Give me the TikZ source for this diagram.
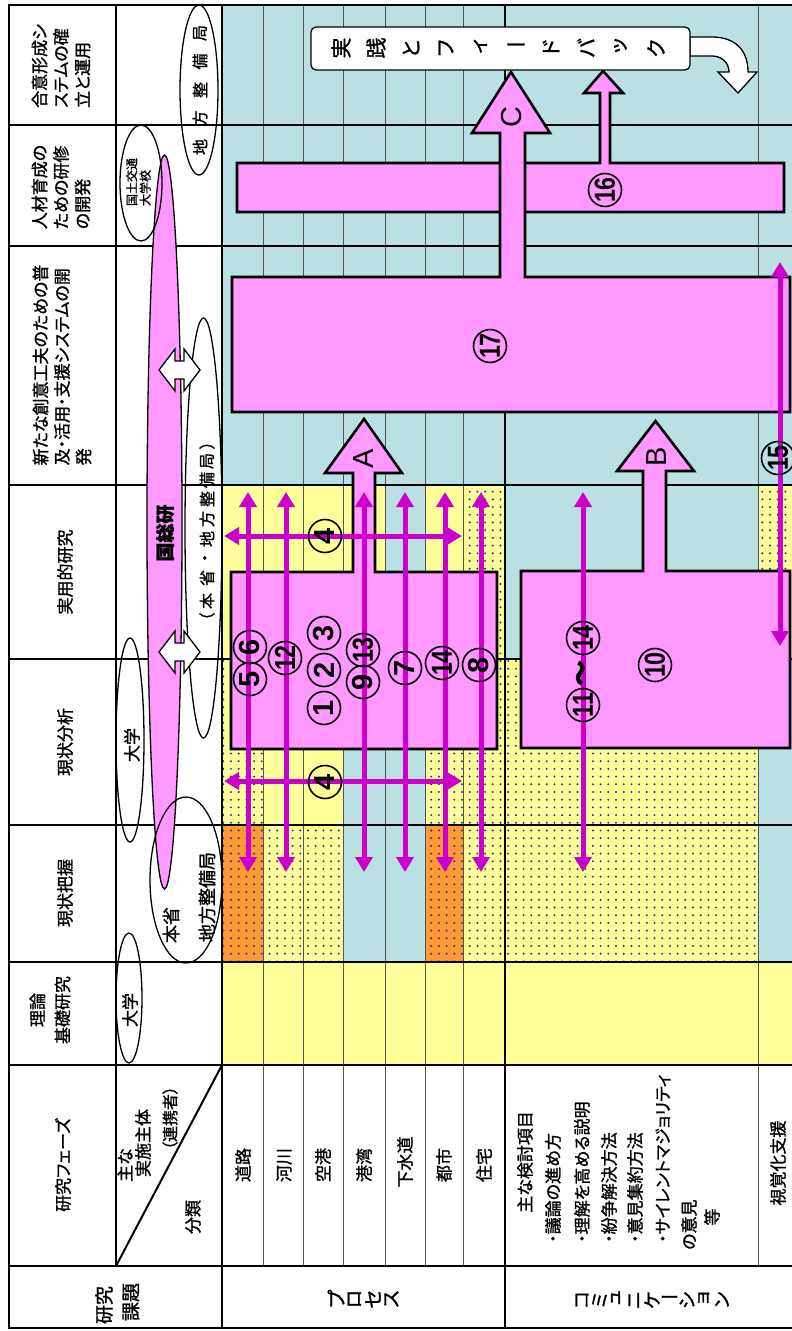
\documentclass[tikz,border=0pt]{standalone}
\usepackage{fontspec}
\usepackage{graphicx}
\setmainfont{Liberation Sans}
\newfontfamily\jp[RawFeature=+palt,FakeBold=1.2]{Noto Sans CJK JP}
\newfontfamily\jpv[RawFeature=+vert,FakeBold=1.2]{Noto Sans CJK JP}
\usetikzlibrary{arrows.meta,patterns.meta}
\newcommand\fs[2]{\fontsize{#1}{#2}\selectfont}
\newcommand\chobar{\rotatebox{-90}{\jp ー}}
\definecolor{cblue}{RGB}{187,224,227}
\definecolor{cyel}{RGB}{255,255,153}
\definecolor{corg}{RGB}{255,153,51}
\definecolor{cpink}{RGB}{255,153,255}
\definecolor{cmag}{RGB}{204,0,204}
\definecolor{cdot}{RGB}{45,45,150}
\definecolor{cgrid}{RGB}{85,85,85}
% chars rotated 90, laid out left to right (vertical text of the original)
\newcommand\tate[6]{\foreach \c [count=\i] in {#6}{\node[rotate=90,inner sep=0pt,font=#5] (#1\i) at ({#2+(\i-1)*(#4)},#3) {\c};}}
\begin{document}
\begin{tikzpicture}[x=1pt,y=-1pt,
  lbl/.style={rotate=90,inner sep=0pt,font=\jp\fs{17}{21.5}},
  dotfill/.style={pattern={Dots[distance=7.7pt,radius=1.1pt]},pattern color=cdot},
  thinl/.style={draw=cgrid,line width=1pt},
  thickl/.style={draw=black,line width=2.3pt,line cap=rect},
  blk/.style={draw=black,line width=2.6pt,line join=miter,fill=cpink},
  eline/.style={draw=black,line width=1.3pt},
  wbox/.style={draw=black,line width=1.3pt,fill=white,line join=miter},
  marr/.style={draw=cmag,line width=5pt,{Triangle[width=17pt,length=15pt]}-{Triangle[width=17pt,length=15pt]}},
  cn/.style={circle,draw=black,line width=1.6pt,minimum size=33pt,inner sep=0pt,rotate=90,font=\fs{29}{29}\bfseries},
  lett/.style={rotate=90,inner sep=0pt,font=\fs{29}{29}}]
\useasboundingbox (0,0) rectangle (792,1331);
\fill[white] (0,0) rectangle (792,1331);
% ---------- cell colours
\fill[cblue] (222,5) rectangle (792,1065);
\fill[cyel] (222,485) rectangle (385,659);
\fill[cyel] (425,485) rectangle (505,659);
\fill[cyel] (758,485) rectangle (792,659);
\fill[dotfill] (463,485) rectangle (505,659);
\fill[dotfill] (758,485) rectangle (792,659);
\fill[cyel] (222,659) rectangle (343,825);
\fill[cyel] (425,659) rectangle (758,825);
\fill[dotfill] (222,659) rectangle (263,825);
\fill[dotfill] (425,659) rectangle (758,825);
\fill[corg] (222,825) rectangle (263,962);
\fill[corg] (425,825) rectangle (463,962);
\fill[cyel] (263,825) rectangle (343,962);
\fill[cyel] (463,825) rectangle (758,962);
\fill[dotfill] (222,825) rectangle (343,962);
\fill[dotfill] (425,825) rectangle (758,962);
\fill[cyel] (222,962) rectangle (792,1065);
% ---------- grid
\foreach \x in {263,303,343,385,425,463,758} \draw[thinl] (\x,5) -- (\x,1266);
\foreach \y in {5,125,246,485,659,825,962,1065,1266,1328} \draw[thickl] (9,\y) -- (792,\y);
\draw[thickl] (9,5) -- (9,1328);
\draw[thickl] (116,5) -- (116,1266);
\draw[thickl] (222,5) -- (222,1328);
\draw[thickl] (505,5) -- (505,1328);
\draw[black,line width=2pt] (116,1266) -- (222,1065);
% ---------- header texts
\node[lbl,align=left] (p1) at (61,66) {合意形成シ\\ステムの確\\立と運用};
\node[lbl,align=left] (p2) at (61,187) {人材育成の\\ための研修\\の開発};
\node[lbl,align=left] (p3) at (62,365) {新たな創意工夫のための普\\及・活用・支援システムの開\\発};
\node[lbl] (p4) at (65,572) {実用的研究};
\node[lbl] (p5) at (65,742) {現状分析};
\node[lbl] (p6) at (65,893) {現状把握};
\node[lbl,align=center,font=\jp\fs{17}{25}] (p7) at (50,1010) {理論\\基礎研究};
\node[lbl] (p8) at (63,1165) {研究フェーズ};
\node[lbl] (a1) at (125,1165) {主な};
\node[lbl] (a2) at (143,1143) {実施主体};
\node[lbl,font=\jp\fs{16}{16}] (a3) at (170,1118) {（連携者）};
\node[lbl] (a4) at (193,1217) {分類};
\node[lbl,font=\jp\fs{19}{19}] (b1) at (104,1305) {研究};
\node[lbl,font=\jp\fs{19}{19}] (b2) at (131,1302) {課題};
\tate{pr}{336}{1299}{18.5}{\jpv\fs{20}{20}}{プ,ロ,セ,ス}
\tate{cm}{582}{1300}{17.5}{\jpv\fs{19}{19}}{コ,ミ,ュ,ニ,ケ,\chobar,シ,ョ,ン}
\foreach \t/\x/\y [count=\i] in {道路/243/1165,河川/284/1165,空港/323/1165,港湾/364/1165,下水道/405/1162,都市/444/1165,住宅/484/1165,視覚化支援/778/1163}
  \node[lbl] (k\i) at (\x,\y) {\t};
\node[lbl,anchor=west] (c1) at (525,1213) {主な検討項目};
\node[lbl,anchor=west] (c2) at (553,1243) {・議論の進め方};
\node[lbl,anchor=west] (c3) at (582,1243) {・理解を高める説明};
\node[lbl,anchor=west] (c4) at (609,1243) {・紛争解決方法};
\node[lbl,anchor=west] (c5) at (635,1243) {・意見集約方法};
\node[lbl,anchor=west] (c6) at (663,1243) {・サイレントマジョリティ};
\node[lbl,anchor=west] (c7) at (689,1250) {の意見};
\node[lbl] (c8) at (712,1217) {等};
% ---------- agents (ellipses)
\fill[cpink,draw=black,line width=1.3pt] (164.5,522) ellipse [x radius=17.5, y radius=367];
\node[lbl,font=\jp\bfseries\fs{19}{19}] (kk) at (165,533) {国総研};
\draw[eline] (199,90) ellipse [x radius=19, y radius=85];
\draw[eline] (141,183) ellipse [x radius=21, y radius=58];
\draw[eline] (203.5,528) ellipse [x radius=18.5, y radius=210];
\draw[eline] (130,740) ellipse [x radius=14, y radius=102];
\draw[eline] (186,880) ellipse [x radius=36, y radius=83];
\draw[eline] (129,998) ellipse [x radius=13, y radius=65];
\foreach \c [count=\i] in {地,方,整,備,局}
  \node[lbl,font=\jp\fs{16}{16}] (ct\i) at (200,{147-(\i-1)*28.5}) {\c};
\node[lbl,align=left,font=\jp\fs{12}{13.5}] (ku) at (138.5,182) {国土交通\\大学校};
\node[lbl] (u1) at (130,1010) {大学};
\node[lbl] (u2) at (132,745) {大学};
\node[lbl,font=\jp\fs{18}{18}] (h1) at (171,925) {本省};
\node[lbl,font=\jp\fs{18}{18}] (h2) at (207,897) {地方整備局};
\foreach \c/\yy [count=\i] in {（/617,本/601,省/578,・/558,地/539,方/519,整/499,備/480,局/461,）/445}
  \node[lbl,font=\jp\fs{16}{16}] (hc\i) at (207,\yy) {\c};
\foreach \yy in {370,652}
  \draw[wbox] (159,\yy) -- (175,\yy-21) -- (175,\yy-9) -- (184,\yy-9) -- (184,\yy-21) -- (200,\yy)
     -- (184,\yy+21) -- (184,\yy+9) -- (175,\yy+9) -- (175,\yy+21) -- cycle;
% ---------- pink blocks
\draw[blk] (237,212) -- (237,163) -- (600,163) -- (600,93) -- (584,93) -- (603,71) -- (623,93)
   -- (610,93) -- (610,163) -- (784,163) -- (784,212) -- cycle;
\draw[blk] (232,412) -- (232,277) -- (500,277) -- (500,133) -- (472,133) -- (511,72) -- (550,133)
   -- (525,133) -- (525,277) -- (790,277) -- (790,412) -- cycle;
\draw[blk] (231,749) -- (231,572) -- (353,572) -- (353,473) -- (325,473) -- (364,419) -- (402,473)
   -- (375,473) -- (375,572) -- (497,572) -- (497,749) -- cycle;
\draw[blk] (521,748) -- (521,571) -- (643,571) -- (643,471) -- (617,471) -- (655.5,421) -- (694,471)
   -- (666,471) -- (666,571) -- (790,571) -- (790,748) -- cycle;
% ---------- magenta arrows
\foreach \x [count=\i] in {248,286,364,405,445,481,583}{
  \coordinate (vt\i) at (\x,492); \coordinate (vb\i) at (\x,872);
  \draw[marr] (vt\i) -- (vb\i);}
\coordinate (h1l) at (224,536); \coordinate (h1r) at (462,536);
\coordinate (h2l) at (224,781); \coordinate (h2r) at (462,781);
\draw[marr] (h1l) -- (h1r);
\draw[marr] (h2l) -- (h2r);
\coordinate (q1) at (780,262); \coordinate (q2) at (780,646);
\draw[marr] (q1) -- (q2);
% ---------- circled labels
\node[cn] (n5) at (250,679) {5};
\node[cn] (n6) at (250,647) {6};
\node[cn] (n12) at (285,658) {\scalebox{0.8}[1]{12}};
\node[cn] (n3) at (324,633) {3};
\node[cn] (n2) at (324,670) {2};
\node[cn] (n1) at (324,708) {1};
\node[cn] (n13) at (363,650) {\scalebox{0.8}[1]{13}};
\node[cn] (n9) at (363,682) {9};
\node[cn] (n7) at (405,668) {7};
\node[cn] (n14) at (442,663) {\scalebox{0.8}[1]{14}};
\node[cn] (n8) at (479,665) {8};
\node[cn] (n4a) at (325,536) {4};
\node[cn] (n4b) at (325,782) {4};
\node[cn] (m14) at (583,638) {\scalebox{0.8}[1]{14}};
\node[rotate=90,inner sep=0pt,font=\jp\bfseries\fs{26}{26}] (tl) at (583,673) {～};
\node[cn] (m11) at (583,705) {\scalebox{0.8}[1]{11}};
\node[cn] (n10) at (655,665) {\scalebox{0.8}[1]{10}};
\node[cn] (n15) at (778,458) {\scalebox{0.8}[1]{15}};
\node[cn] (n16) at (605,190) {\scalebox{0.8}[1]{16}};
\node[cn] (n17) at (490,346) {\scalebox{0.8}[1]{17}};
\node[lett] (lA) at (364,459) {A};
\node[lett] (lB) at (657,457) {B};
\node[lett] (lC) at (512,117) {C};
% ---------- feedback box
\draw[wbox] (690,37) -- (712,37) .. controls (735,37) and (748,50) .. (748,72) -- (757,72) -- (738,93)
   -- (718,72) -- (729,72) .. controls (729,62) and (721,56) .. (712,56) -- (690,56) -- cycle;
\node[draw=black,line width=1.3pt,fill=white,rounded corners=5pt,minimum width=379pt,minimum height=43pt,inner sep=0pt] (fb) at (500.5,48.5) {};
\tate{fbt}{341}{48}{35}{\jpv\fs{21}{21}}{実,践,と,フ,ィ,\chobar,ド,バ,ッ,ク}
\end{tikzpicture}
\end{document}
